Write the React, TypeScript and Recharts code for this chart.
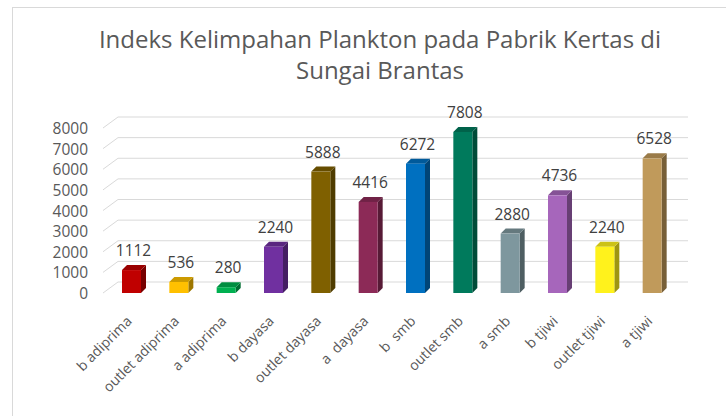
import React from "react";
import { BarChart, Bar, XAxis, YAxis, CartesianGrid, LabelList } from "recharts";

const categories = [
  "b adiprima",
  "outlet adiprima",
  "a adiprima",
  "b dayasa",
  "outlet dayasa",
  "a  dayasa",
  "b  smb",
  "outlet smb",
  "a smb",
  "b tjiwi",
  "outlet tjiwi",
  "a tjiwi",
];
const values = [1112, 536, 280, 2240, 5888, 4416, 6272, 7808, 2880, 4736, 2240, 6528];
const colors = [
  "#C00000",
  "#FFC000",
  "#00B050",
  "#7030A0",
  "#7F6000",
  "#8C2A57",
  "#0070C0",
  "#007A5C",
  "#7E979E",
  "#A666BB",
  "#FFF21C",
  "#C09A5B",
];
const yTicks = [0, 1000, 2000, 3000, 4000, 5000, 6000, 7000, 8000];

const data = categories.map((name, i) => ({ name, value: values[i], color: colors[i] }));

const FONT = "'Open Sans', sans-serif";
const DX = 5; // depth of the 3d bars
const DY = 5;

function shade(hex: string, f: number) {
  const n = parseInt(hex.slice(1), 16);
  const r = Math.round(((n >> 16) & 255) * f);
  const g = Math.round(((n >> 8) & 255) * f);
  const b = Math.round((n & 255) * f);
  return `rgb(${r},${g},${b})`;
}

// front face + side + top, excel style 3d column
function Bar3D(props: any) {
  const { x, y, width, height, payload } = props;
  const c = payload.color;
  return (
    <g>
      <polygon
        points={`${x + width},${y} ${x + width + DX},${y - DY} ${x + width + DX},${y + height - DY} ${x + width},${y + height}`}
        fill={shade(c, 0.62)}
      />
      <polygon
        points={`${x},${y} ${x + DX},${y - DY} ${x + width + DX},${y - DY} ${x + width},${y}`}
        fill={shade(c, 0.8)}
      />
      <rect x={x} y={y} width={width} height={height} fill={c} />
    </g>
  );
}

// gridline drawn on the back wall with a slanted edge on the left
function GridLine(props: any) {
  const { x1, y1, x2 } = props;
  return (
    <g key={props.key}>
      <polyline
        points={`${x1 - 5},${y1} ${x1 + 10},${y1 - 11} ${x2 + 12},${y1 - 11}`}
        fill="none"
        stroke="#D9D9D9"
        strokeWidth={1}
      />
    </g>
  );
}

function XTick(props: any) {
  const { x, y, payload } = props;
  const ax = x + 1;
  const ay = y + 27;
  return (
    <text
      x={ax}
      y={ay}
      transform={`rotate(-45 ${ax} ${ay})`}
      textAnchor="end"
      fontFamily={FONT}
      fontSize={14}
      fill="#595959"
      style={{ whiteSpace: "pre" }}
    >
      {payload.value}
    </text>
  );
}

function YTick(props: any) {
  const { x, y, payload } = props;
  return (
    <text x={x} y={y + 6} textAnchor="end" fontFamily={FONT} fontSize={15.5} fill="#595959">
      {payload.value}
    </text>
  );
}

function ValueLabel(props: any) {
  const { x, y, width, value } = props;
  return (
    <text
      x={x + width / 2 + 2}
      y={y - 14}
      textAnchor="middle"
      fontFamily={FONT}
      fontSize={15.5}
      fill="#404040"
    >
      {value}
    </text>
  );
}

export default function App() {
  return (
    <div
      style={{
        position: "absolute",
        left: 0,
        top: 0,
        width: 726,
        height: 416,
        background: "#fff",
        overflow: "hidden",
      }}
    >
      <div
        style={{
          position: "absolute",
          left: 12,
          top: 7,
          width: 800,
          height: 500,
          borderLeft: "1px solid #D9D9D9",
          borderTop: "1px solid #D9D9D9",
        }}
      />
      <div
        style={{
          position: "absolute",
          left: 60,
          top: 23,
          width: 640,
          textAlign: "center",
          fontFamily: FONT,
          fontSize: 24,
          lineHeight: "31px",
          color: "#595959",
        }}
      >
        Indeks Kelimpahan Plankton pada Pabrik Kertas di
        <br />
        Sungai Brantas
      </div>
      <div style={{ position: "absolute", left: 0, top: 0 }}>
        <BarChart
          width={726}
          height={416}
          data={data}
          margin={{ top: 128, right: 50, bottom: 0, left: 0 }}
        >
          <CartesianGrid vertical={false} horizontal={GridLine as any} />
          <XAxis
            dataKey="name"
            interval={0}
            axisLine={false}
            tickLine={false}
            tickSize={0}
            height={123}
            tick={<XTick />}
          />
          <YAxis
            width={108}
            domain={[0, 8000]}
            ticks={yTicks}
            interval={0}
            axisLine={false}
            tickLine={false}
            tickSize={0}
            tickMargin={20}
            tick={<YTick />}
          />
          <Bar dataKey="value" barSize={19} shape={Bar3D} isAnimationActive={false}>
            <LabelList dataKey="value" content={ValueLabel} />
          </Bar>
        </BarChart>
      </div>
    </div>
  );
}
